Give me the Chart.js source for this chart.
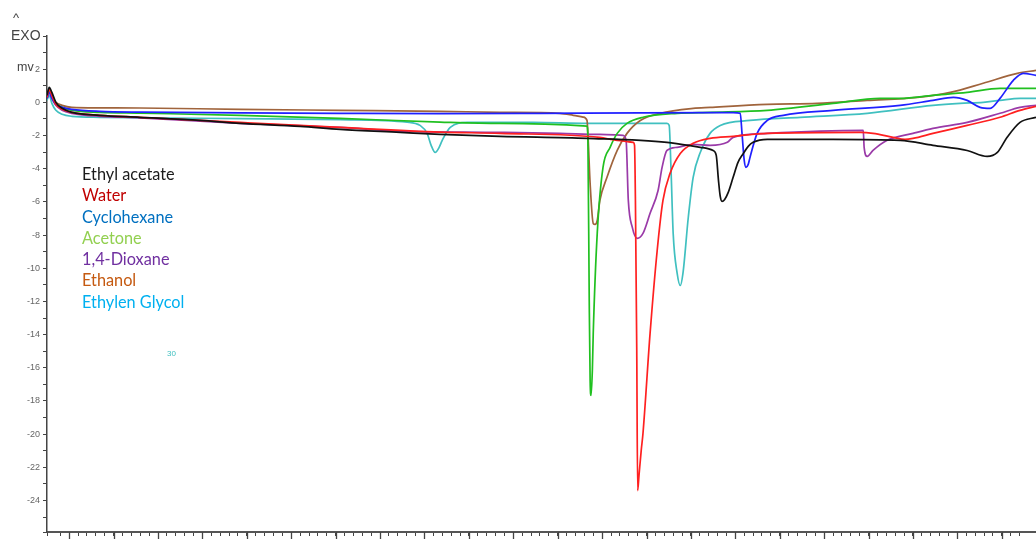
<!DOCTYPE html>
<html><head><meta charset="utf-8">
<script src="https://cdn.jsdelivr.net/npm/chart.js@4.4.1/dist/chart.umd.min.js"></script>
<style>
html,body{margin:0;padding:0;background:#fff;overflow:hidden}
#wrap{position:relative;width:1036px;height:540px}
canvas{position:absolute;left:0;top:0}
.t{position:absolute;white-space:nowrap;font-family:'Liberation Sans',Arial,sans-serif;color:#444}
#legend{position:absolute;left:82px;top:163px;font-family:Lato,'Open Sans',sans-serif;font-size:16.3px;line-height:21.3px;white-space:nowrap}
</style></head><body>
<div id="wrap"><canvas id="c" width="1036" height="540"></canvas>
<div class="t" style="left:13px;top:10px;font-size:13px">^</div>
<div class="t" style="left:11px;top:27px;font-size:14px">EXO</div>
<div class="t" style="left:17px;top:60px;font-size:12.5px">mv</div>
<div class="t" style="left:167px;top:349px;font-size:8px;color:#40c0c0">30</div>
<div id="legend"></div>
</div>
<script>
// Series names and legend colours
const seriesNames = ['Ethyl acetate','Water','Cyclohexane','Acetone','1,4-Dioxane','Ethanol','Ethylen Glycol'];
const legendColors = ['#1a1a1a','#c00000','#0070c0','#92d050','#7030a0','#c55a11','#00b0f0'];
const lineColors = ['#111111','#ff2020','#2020ff','#20c020','#9a3aa8','#a0643c','#40c0c0'];

// Ethyl acetate
const ethylAcetateT = [25.0,25.5,26.1,27.0,28.4,30.6,36.9,45.9,59.5,68.5,82.0,91.0,104.5,113.5,127.0,146.6,164.6,172.1,175.0,175.7,176.2,176.6,177.0,177.6,178.4,179.5,180.6,181.8,182.9,184.0,187.2,202.0,217.1,224.5,232.2,236.7,239.0,241.2,244.1,247.7];
const ethylAcetateMv = [0.42,0.90,0.60,0,-0.36,-0.60,-0.78,-0.90,-1.09,-1.27,-1.45,-1.63,-1.81,-1.93,-2.05,-2.17,-2.41,-2.71,-2.90,-3.20,-4.70,-5.67,-5.97,-5.85,-5.43,-4.52,-3.62,-3.08,-2.65,-2.41,-2.23,-2.23,-2.29,-2.59,-2.90,-3.26,-3.02,-2.11,-1.21,-0.90];
// Water
const waterT = [25.0,25.5,26.1,27.0,28.4,30.6,36.9,45.9,68.5,91.0,113.5,127.0,149.5,153.4,157.0,157.3,157.5,157.8,158.0,158.3,158.8,159.2,160.8,162.4,163.7,165.3,167.6,170.5,174.3,179.5,187.2,208.1,211.0,215.5,218.2,220.0,224.5,232.2,239.6,244.1,247.7];
const waterMv = [0.30,0.78,0.42,-0.12,-0.42,-0.60,-0.78,-0.90,-1.21,-1.51,-1.79,-1.87,-2.11,-2.29,-2.41,-2.59,-5.91,-14.96,-23.40,-22.50,-20.99,-19.96,-13.93,-8.93,-5.91,-4.28,-3.08,-2.47,-2.17,-2.05,-1.87,-1.81,-1.87,-2.11,-2.23,-2.17,-1.87,-1.39,-0.90,-0.48,-0.24];
// Cyclohexane
const cyclohexaneT = [25.0,25.5,26.1,27.0,28.4,30.6,36.9,45.9,68.5,91.0,113.5,136.0,158.6,179.5,181.1,181.5,182.0,182.4,182.9,183.3,184.9,187.2,190.8,202.0,217.1,224.5,229.1,232.2,235.1,237.4,239.6,242.6,244.8,247.7];
const cyclohexaneMv = [0.24,0.60,0.24,-0.12,-0.30,-0.42,-0.54,-0.59,-0.63,-0.66,-0.68,-0.66,-0.63,-0.62,-0.66,-1.87,-3.50,-3.92,-3.74,-3.32,-1.87,-1.09,-0.78,-0.48,-0.18,0.12,0.30,0.12,-0.30,-0.36,0.24,1.33,1.75,1.63];
// Acetone
const acetoneT = [25.0,25.5,26.1,27.0,28.4,30.6,36.9,45.9,68.5,91.0,113.5,127.0,146.6,146.8,147.1,147.3,147.5,147.8,148.0,148.9,150.2,151.8,153.4,155.6,159.2,166.9,174.3,187.2,202.0,212.6,217.1,224.5,232.2,239.6,247.7];
const acetoneMv = [0.42,0.78,0.42,-0.06,-0.30,-0.48,-0.60,-0.65,-0.78,-0.97,-1.19,-1.27,-1.43,-2.29,-11.94,-16.77,-17.67,-16.16,-13.93,-7.90,-3.92,-2.71,-1.87,-1.27,-0.90,-0.66,-0.60,-0.48,-0.06,0.24,0.24,0.42,0.60,0.84,0.84];
// 1,4-Dioxane
const dioxaneT = [25.0,25.5,26.1,27.0,28.4,30.6,36.9,45.9,68.5,91.0,104.5,127.0,140.5,149.5,154.7,155.4,155.9,156.8,157.9,159.2,160.8,162.6,163.5,164.6,166.9,170.5,174.3,178.2,179.5,187.2,208.8,209.0,209.7,211.0,214.2,220.0,224.5,232.2,239.6,244.1,247.7];
const dioxaneMv = [0.24,0.60,0.24,-0.18,-0.48,-0.66,-0.84,-0.93,-1.27,-1.51,-1.73,-1.81,-1.87,-1.93,-1.99,-2.29,-5.91,-7.54,-8.20,-7.90,-6.69,-5.31,-3.92,-2.90,-2.71,-2.53,-2.59,-2.41,-2.11,-1.87,-1.69,-2.71,-3.26,-2.90,-2.29,-1.87,-1.57,-1.21,-0.66,-0.30,-0.18];
// Ethanol
const ethanolT = [25.0,25.5,26.1,27.0,28.4,30.6,36.9,45.9,68.5,91.0,113.5,127.0,140.5,143.5,145.7,146.6,146.8,147.3,148.0,148.4,148.9,149.5,151.1,153.4,155.6,158.6,163.1,170.5,174.3,187.2,198.4,209.7,221.0,228.4,235.8,243.5,247.7];
const ethanolMv = [0.36,0.72,0.36,0,-0.18,-0.30,-0.33,-0.34,-0.42,-0.48,-0.54,-0.60,-0.66,-0.78,-0.89,-1.09,-1.87,-4.89,-7.30,-7.36,-7.12,-5.91,-4.52,-2.90,-1.87,-1.09,-0.66,-0.36,-0.30,-0.12,-0.06,0.12,0.30,0.60,1.15,1.75,1.93];
// Ethylen Glycol
const glycolT = [25.0,25.5,26.1,27.0,28.4,30.6,36.9,45.9,68.5,91.0,106.1,109.0,110.6,111.5,112.4,113.3,114.0,115.8,119.6,134.5,146.6,164.6,165.1,165.5,166.0,166.9,167.6,168.2,169.4,170.5,172.1,174.3,176.6,183.3,194.6,209.7,224.5,230.6,235.8,239.6,244.1,247.7];
const glycolMv = [0.12,0.42,-0.06,-0.48,-0.72,-0.84,-0.90,-0.93,-0.98,-1.04,-1.19,-1.39,-1.87,-2.59,-3.02,-2.71,-2.29,-1.51,-1.21,-1.21,-1.27,-1.27,-1.39,-3.92,-7.90,-10.31,-11.04,-10.31,-6.94,-4.52,-3.02,-1.87,-1.39,-1.09,-0.90,-0.66,-0.18,-0.06,0,0.12,0.24,0.24];

// Axis settings
const xMin = 25, xMax = 247.7, xMinorStep = 2, xMajorStep = 10;
const yMin = -25.9, yMax = 4, yLabelMin = -24, yLabelMax = 2;

const allT = [ethylAcetateT, waterT, cyclohexaneT, acetoneT, dioxaneT, ethanolT, glycolT];
const allMv = [ethylAcetateMv, waterMv, cyclohexaneMv, acetoneMv, dioxaneMv, ethanolMv, glycolMv];

document.getElementById('legend').innerHTML = seriesNames.map((n,i)=>'<div style="color:'+legendColors[i]+'">'+n+'</div>').join('');

const datasets = seriesNames.map((n,i)=>({
  label: n,
  data: allT[i].map((t,j)=>({x:t, y:allMv[i][j]})),
  borderColor: lineColors[i],
  borderWidth: 1.7,
  pointRadius: 0,
  fill: false,
  cubicInterpolationMode: 'monotone'
}));

const majorTicks = {
  id: 'majorTicks',
  afterDraw(chart){
    const s = chart.scales.x, ctx = chart.ctx;
    ctx.save(); ctx.strokeStyle = '#444'; ctx.lineWidth = 1.3;
    for (let v = Math.ceil(xMin/xMajorStep)*xMajorStep; v <= xMax; v += xMajorStep){
      const p = Math.round(s.getPixelForValue(v)) + 0.5;
      ctx.beginPath(); ctx.moveTo(p, s.top); ctx.lineTo(p, s.top + 7); ctx.stroke();
    }
    ctx.restore();
  }
};

new Chart(document.getElementById('c'), {
  type: 'line',
  data: { datasets },
  plugins: [majorTicks],
  options: {
    responsive: false,
    animation: false,
    layout: { padding: { top: 36, right: 0, bottom: 0, left: 0 } },
    plugins: { legend: { display: false }, tooltip: { enabled: false } },
    scales: {
      x: {
        type: 'linear', min: xMin, max: xMax,
        ticks: { display: false, stepSize: xMinorStep, autoSkip: false },
        grid: { drawOnChartArea: false, drawTicks: true, tickLength: 4, tickColor: '#444', tickWidth: 1 },
        border: { color: '#555', width: 2 },
        afterFit(s){ s.height = 8; s.paddingLeft = 0; s.paddingRight = 0; }
      },
      y: {
        type: 'linear', min: yMin, max: yMax,
        ticks: {
          stepSize: 1, autoSkip: false, padding: 3,
          color: '#666', font: { family: "'Liberation Sans', Arial, sans-serif", size: 9 },
          callback(v){
            const r = Math.round(v);
            if (Math.abs(v - r) > 1e-6) return '';
            if (r % 2 !== 0 || r < yLabelMin || r > yLabelMax) return '';
            return String(r);
          }
        },
        grid: { drawOnChartArea: false, drawTicks: true, tickLength: 4, tickColor: '#444', tickWidth: 1 },
        border: { color: '#444', width: 1.5 },
        afterFit(s){ s.width = 47; s.paddingTop = 0; s.paddingBottom = 0; }
      }
    }
  }
});
</script>
</body></html>
